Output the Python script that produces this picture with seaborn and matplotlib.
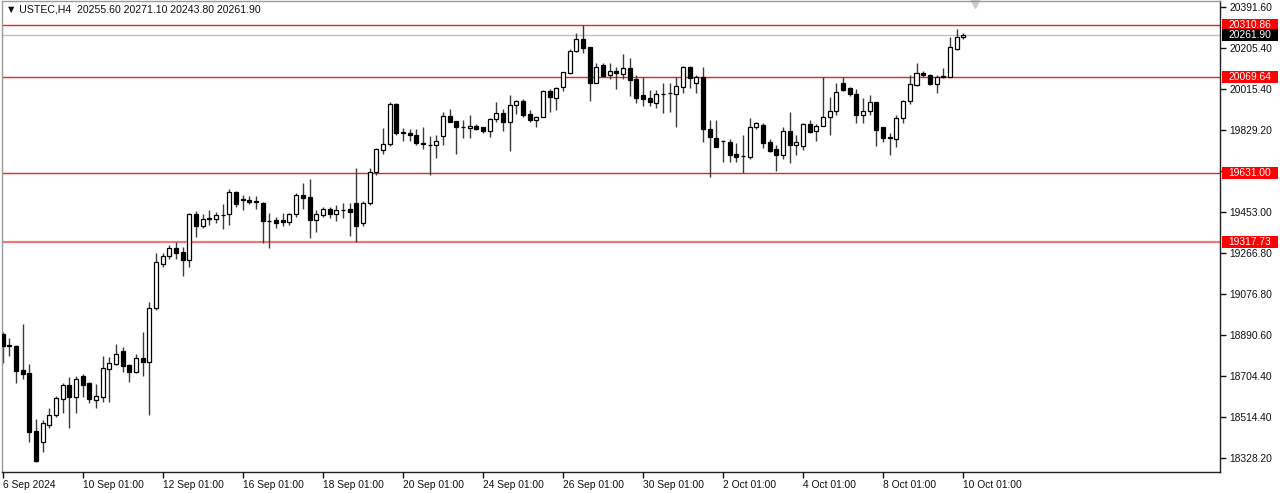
import matplotlib
matplotlib.use("Agg")
import matplotlib.pyplot as plt
import matplotlib.transforms as mtransforms
from matplotlib.patches import Rectangle
import numpy as np
import pandas as pd
import seaborn as sns

# USTEC H4 candles, 6 Sep 2024 01:00 .. 10 Oct 2024 01:00
opens = [
    18895.6, 18840.7, 18840.7, 18730.9, 18717.2, 18451.8, 18401.5, 18479.3, 18525.0, 18598.2,
    18662.2, 18607.3, 18703.4, 18671.4, 18593.6, 18607.3, 18735.4, 18758.3, 18817.8, 18753.7,
    18721.7, 18785.8, 18767.4, 19014.5, 19215.8, 19252.4, 19289.0, 19270.7, 19234.1, 19444.6,
    19389.7, 19421.7, 19421.7, 19440.0, 19444.6, 19545.2, 19513.2, 19508.6, 19504.0, 19494.9,
    19412.5, 19417.1, 19417.1, 19408.0, 19444.6, 19531.5, 19522.3, 19417.1, 19440.0, 19467.5,
    19444.6, 19462.9, 19467.5, 19494.9, 19403.4, 19494.9, 19636.7, 19737.4, 19764.8, 19947.8,
    19819.7, 19815.1, 19806.0, 19769.4, 19760.2, 19760.2, 19801.4, 19892.9, 19870.0, 19842.6,
    19838.0, 19847.2, 19842.6, 19824.3, 19879.2, 19906.6, 19865.5, 19943.2, 19961.5, 19902.1,
    19874.6, 19888.4, 20007.3, 19975.2, 20025.6, 20089.6, 20190.3, 20245.2, 20208.6, 20043.9,
    20126.2, 20080.5, 20098.8, 20085.0, 20112.5, 20062.2, 19989.0, 19975.2, 19952.4, 19993.5,
    19998.1, 19993.5, 20025.6, 20117.1, 20043.9, 20071.3, 19833.4, 19792.3, 19778.5, 19774.0,
    19719.1, 19709.9, 19705.3, 19842.6, 19851.7, 19774.0, 19741.9, 19714.5, 19824.3, 19760.2,
    19755.7, 19856.3, 19824.3, 19847.2, 19888.4, 19915.8, 20043.9, 20021.0, 19993.5, 19897.5,
    19915.8, 19957.0, 19842.6, 19796.8, 19787.7, 19883.8, 19961.5, 20034.7, 20089.6, 20080.5,
    20039.3, 20071.3, 20071.3, 20199.4, 20255.6,
]
highs = [
    18904.7, 18877.3, 18845.2, 18941.3, 18758.3, 18506.7, 18502.1, 18557.0, 18611.9, 18671.4,
    18698.8, 18703.4, 18712.6, 18676.0, 18666.8, 18794.9, 18790.3, 18849.8, 18836.1, 18758.3,
    18804.1, 18904.7, 19042.0, 19266.2, 19266.2, 19302.7, 19316.4, 19293.5, 19449.1, 19458.3,
    19444.6, 19462.9, 19453.7, 19490.3, 19559.0, 19549.8, 19531.5, 19526.9, 19526.9, 19499.5,
    19449.1, 19430.8, 19449.1, 19449.1, 19540.6, 19586.4, 19604.7, 19462.9, 19476.6, 19476.6,
    19485.7, 19494.9, 19494.9, 19655.0, 19504.0, 19655.0, 19746.5, 19838.0, 19957.0, 19952.4,
    19838.0, 19833.4, 19833.4, 19842.6, 19801.4, 19806.0, 19911.2, 19925.0, 19871.0, 19874.6,
    19897.5, 19856.3, 19843.6, 19883.8, 19957.0, 19925.0, 19989.0, 19966.1, 19970.7, 19920.4,
    19892.9, 20011.8, 20016.4, 20025.6, 20095.0, 20199.4, 20272.6, 20310.86, 20209.5, 20135.4,
    20135.4, 20135.4, 20117.1, 20176.5, 20158.2, 20080.5, 20071.3, 20011.8, 20011.8, 20043.9,
    20043.9, 20071.3, 20121.6, 20121.6, 20080.5, 20117.1, 19874.6, 19874.6, 19783.1, 19787.7,
    19769.4, 19806.0, 19883.8, 19865.5, 19860.9, 19787.7, 19760.2, 19842.6, 19911.2, 19806.0,
    19860.9, 19874.6, 19856.3, 20069.64, 19979.8, 20043.9, 20069.64, 20025.6, 20016.4, 19975.2,
    19989.0, 19958.0, 19843.5, 19815.1, 19897.5, 19966.1, 20080.5, 20135.4, 20098.8, 20085.0,
    20080.5, 20112.5, 20254.3, 20290.9, 20271.1,
]
lows = [
    18762.9, 18794.9, 18671.4, 18689.7, 18401.5, 18310.0, 18355.7, 18465.5, 18515.9, 18534.2,
    18465.5, 18534.2, 18607.3, 18579.9, 18557.0, 18584.5, 18584.5, 18753.7, 18721.7, 18676.0,
    18717.2, 18703.4, 18525.0, 19005.4, 19202.1, 19238.7, 19238.7, 19160.9, 19202.1, 19339.3,
    19380.5, 19394.2, 19403.4, 19375.9, 19394.2, 19476.6, 19462.9, 19490.3, 19467.5, 19311.9,
    19289.0, 19380.5, 19389.7, 19394.2, 19430.8, 19467.5, 19334.7, 19362.2, 19430.8, 19426.3,
    19412.5, 19426.3, 19343.9, 19316.4, 19389.7, 19485.7, 19623.0, 19719.1, 19755.7, 19806.0,
    19778.5, 19778.5, 19760.2, 19741.9, 19623.0, 19700.8, 19760.2, 19864.0, 19719.1, 19792.3,
    19792.3, 19828.9, 19815.1, 19796.8, 19865.5, 19824.3, 19732.8, 19902.1, 19888.4, 19865.5,
    19842.6, 19887.0, 19911.2, 19920.4, 20007.3, 20085.0, 20185.7, 20181.1, 19961.5, 20043.0,
    20071.3, 20062.2, 20016.4, 20062.2, 19984.4, 19952.4, 19938.7, 19938.7, 19929.5, 19906.6,
    19911.2, 19842.6, 19998.1, 20021.0, 19998.1, 19774.0, 19613.8, 19750.0, 19682.4, 19682.4,
    19682.4, 19631.0, 19696.2, 19833.4, 19746.5, 19728.2, 19641.3, 19696.2, 19677.9, 19714.5,
    19737.4, 19815.1, 19778.5, 19846.0, 19806.0, 19897.5, 20007.3, 19984.4, 19860.9, 19860.9,
    19897.5, 19755.7, 19774.0, 19714.5, 19751.1, 19860.9, 19947.8, 20030.1, 20071.3, 20034.7,
    19998.1, 20066.7, 20070.5, 20194.8, 20243.8,
]
closes = [
    18840.7, 18845.2, 18726.3, 18712.6, 18447.2, 18314.6, 18488.4, 18525.0, 18602.8, 18662.2,
    18607.3, 18689.7, 18662.2, 18598.2, 18611.9, 18740.0, 18762.9, 18804.1, 18749.1, 18721.7,
    18785.8, 18767.4, 19014.5, 19225.0, 19252.4, 19289.0, 19266.2, 19234.1, 19444.6, 19389.7,
    19421.7, 19426.3, 19440.0, 19441.0, 19545.2, 19490.3, 19508.6, 19499.5, 19499.5, 19412.5,
    19413.5, 19403.4, 19408.0, 19444.6, 19531.5, 19517.8, 19417.1, 19444.6, 19467.5, 19444.6,
    19462.9, 19462.0, 19453.7, 19389.7, 19494.9, 19636.7, 19741.9, 19764.8, 19947.8, 19815.1,
    19815.1, 19806.0, 19769.4, 19764.8, 19761.2, 19778.5, 19892.9, 19865.5, 19842.6, 19843.6,
    19847.2, 19833.4, 19824.3, 19879.2, 19906.6, 19865.5, 19943.2, 19961.5, 19897.5, 19874.6,
    19888.4, 20007.3, 19979.8, 20021.0, 20094.2, 20190.3, 20245.2, 20204.0, 20043.9, 20117.1,
    20075.9, 20098.8, 20089.6, 20112.5, 20057.6, 19975.2, 19970.7, 19957.0, 19993.5, 19994.5,
    19999.0, 20030.1, 20117.1, 20066.7, 20071.3, 19833.4, 19796.8, 19751.1, 19779.5, 19714.5,
    19705.3, 19710.9, 19842.6, 19860.9, 19769.4, 19732.8, 19714.5, 19824.3, 19760.2, 19774.0,
    19856.3, 19819.7, 19847.2, 19888.4, 19915.8, 20002.7, 20011.8, 19993.5, 19897.5, 19915.8,
    19957.0, 19828.9, 19792.3, 19792.3, 19883.8, 19961.5, 20039.3, 20089.6, 20080.5, 20039.3,
    20071.3, 20075.9, 20208.6, 20254.3, 20261.9,
]

date_ticks = [0, 12, 24, 36, 48, 60, 72, 84, 96, 108, 120, 132, 144]
date_labels = ["6 Sep 2024", "10 Sep 01:00", "12 Sep 01:00", "16 Sep 01:00", "18 Sep 01:00",
               "20 Sep 01:00", "24 Sep 01:00", "26 Sep 01:00", "30 Sep 01:00", "2 Oct 01:00",
               "4 Oct 01:00", "8 Oct 01:00", "10 Oct 01:00"]
price_ticks = [20391.60, 20205.40, 20015.40, 19829.20, 19641.10, 19453.00, 19266.80,
               19076.80, 18890.60, 18704.40, 18514.40, 18328.20]
levels = [20310.86, 20069.64, 19631.00, 19317.73]
bid = 20261.90

sns.set_theme(style="ticks")
plt.rcParams['font.family'] = ['Liberation Sans', 'DejaVu Sans']

df = pd.DataFrame({"o": opens, "h": highs, "l": lows, "c": closes})
df["i"] = np.arange(len(df))
up = df.c >= df.o

fig = plt.figure(figsize=(12.8, 4.93), dpi=100)
ax = fig.add_axes([2 / 1280, 21 / 493, 1218 / 1280, 471 / 493])
ax.set_facecolor("white")

ymin, ymax = 18264.2, 20419.0
ax.set_xlim(-0.1, 182.5)
ax.set_ylim(ymin, ymax)

# wicks + bodies
ax.vlines(df.i, df.l, df.h, color="#3a3a3a", lw=1, zorder=2)
ax.bar(df.i[up], (df.c - df.o)[up], bottom=df.o[up], width=0.6,
       color="white", edgecolor="black", lw=0.9, zorder=3)
ax.bar(df.i[~up], (df.o - df.c)[~up], bottom=df.c[~up], width=0.6,
       color="black", edgecolor="black", lw=0.9, zorder=3)

# support / resistance lines and bid line
for v in levels:
    if v == levels[-1]:
        ax.axhline(v, color="#f07878", lw=1.6, zorder=1)
    else:
        ax.axhline(v, color="#ee2020", lw=1, zorder=1)
ax.axhline(bid, color="#c0c0c0", lw=1, zorder=1)

# axes styling
ax.yaxis.tick_right()
ax.set_yticks(price_ticks)
ax.set_yticklabels([f"{p:.2f}" for p in price_ticks])
ax.set_xticks(date_ticks)
ax.set_xticklabels(date_labels, ha="left")
ax.tick_params(axis="y", right=True, left=False, length=4, width=1, pad=3,
               labelsize=7.4, colors="#111111")
ax.tick_params(axis="x", bottom=True, length=4, width=1, pad=1.5,
               labelsize=7.4, colors="#111111")
for s in ["top", "left"]:
    ax.spines[s].set_color("#9a9a9a")
for s in ["right", "bottom"]:
    ax.spines[s].set_color("#222222")
for s in ax.spines.values():
    s.set_linewidth(1)

# price labels on the right scale
trans = mtransforms.blended_transform_factory(ax.transAxes, ax.transData)
px = (ymax - ymin) / 471
box_h = 12 * px
for v, fc in [(levels[0], "#ff0000"), (bid, "#000000"), (levels[1], "#ff0000"),
              (levels[2], "#ff0000"), (levels[3], "#ff0000")]:
    ax.add_patch(Rectangle((1.0016, v - box_h / 2), 0.046, box_h, transform=trans,
                           facecolor=fc, edgecolor="none", clip_on=False, zorder=5))
    ax.text(1.0066, v, f"{v:.2f}", transform=trans, ha="left", va="center",
            color="white", fontsize=7.4, zorder=6, clip_on=False)

# header
ax.text(0.003, 0.993, "▼ USTEC,H4  20255.60 20271.10 20243.80 20261.90",
        transform=ax.transAxes, ha="left", va="top", fontsize=7.6, color="#111111")

# chart-shift marker
ax.plot([0.7989], [0.996], marker="v", ms=7, color="#cccccc", mec="#cccccc",
        transform=ax.transAxes, clip_on=False)

fig.savefig("out.png", dpi=100)
